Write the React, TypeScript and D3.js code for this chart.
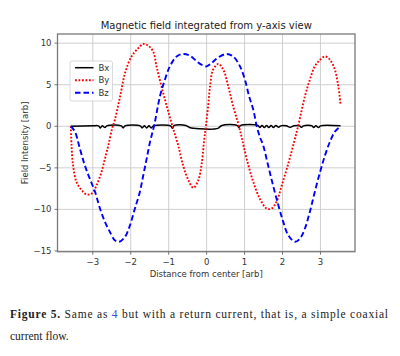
import React from "react";
import * as d3 from "d3";

const title = "Magnetic field integrated from y-axis view";
const xLabel = "Distance from center [arb]";
const yLabel = "Field Intensity [arb]";
const xTicks = [-3, -2, -1, 0, 1, 2, 3];
const yTicks = [-15, -10, -5, 0, 5, 10];
const seriesNames = ["Bx", "By", "Bz"];

const bxData: [number, number][] = [
  [-3.58, 0], [-3.0, 0.05], [-2.85, 0.05], [-2.8, -0.2], [-2.75, 0.05], [-2.68, -0.15], [-2.63, 0.05],
  [-2.25, 0.05], [-2.2, -0.2], [-2.15, 0.05], [-1.75, 0.05], [-1.7, -0.2], [-1.64, 0.05], [-1.58, -0.2],
  [-1.52, 0.05], [-1.46, -0.2], [-1.4, 0.05], [-0.95, 0.05], [-0.9, -0.25], [-0.85, 0.1], [-0.55, 0.1],
  [-0.45, -0.15], [-0.35, -0.25], [0.3, -0.25], [0.4, 0.1], [0.8, 0.1], [0.85, -0.15], [0.9, 0.1], [1.35, 0.1],
  [1.4, -0.15], [1.46, 0.1], [1.52, -0.15], [1.58, 0.1], [1.64, -0.15], [1.7, 0.1], [1.76, -0.15], [1.82, 0.1],
  [1.9, -0.12], [1.95, 0.05], [2.1, 0.05], [2.2, -0.12], [2.3, 0.05], [2.45, 0.05], [2.5, -0.12], [2.55, 0.05],
  [2.78, 0.05], [2.82, -0.15], [2.88, 0.05], [2.95, -0.15], [3.0, 0.05], [3.53, 0.05],
];

const byData: [number, number][] = [
  [-3.58, 0], [-3.56, -2.3], [-3.52, -4.7], [-3.43, -6.7], [-3.29, -7.7], [-3.16, -8.2], [-3.03, -8.1],
  [-2.9, -7.1], [-2.77, -5.5], [-2.68, -3.9], [-2.59, -2.3], [-2.49, -0.25], [-2.42, 0.76], [-2.28, 3.6],
  [-2.15, 6.4], [-1.98, 8.4], [-1.8, 9.4], [-1.67, 9.9], [-1.54, 9.7], [-1.41, 9.0], [-1.32, 7.2],
  [-1.19, 4.8], [-1.05, 2.4], [-0.9, 0], [-0.75, -2.3], [-0.62, -4.7], [-0.48, -6.5], [-0.35, -7.4],
  [-0.22, -6.5], [-0.13, -4.5], [-0.07, -1.85], [-0.02, 0], [0.04, 2.4], [0.09, 4.8], [0.17, 6.8],
  [0.31, 7.5], [0.44, 6.8], [0.57, 4.8], [0.7, 2.4], [0.83, 0.36], [0.92, -1.25], [0.98, -2.5],
  [1.1, -4.7], [1.23, -6.7], [1.4, -8.7], [1.58, -9.9], [1.71, -9.9], [1.84, -9.1], [1.98, -7.1],
  [2.12, -5.0], [2.27, -2.5], [2.41, 0], [2.59, 3.6], [2.72, 5.6], [2.85, 7.2], [2.99, 8.0],
  [3.12, 8.4], [3.25, 8.0], [3.38, 6.8], [3.47, 4.8], [3.53, 2.6],
];

const bzData: [number, number][] = [
  [-3.58, 0], [-3.47, -0.65], [-3.34, -2.7], [-3.21, -4.7], [-3.08, -6.3], [-2.94, -7.9], [-2.81, -9.9],
  [-2.68, -11.5], [-2.55, -12.7], [-2.42, -13.7], [-2.3, -13.9], [-2.15, -13.3], [-2.02, -11.9],
  [-1.89, -9.9], [-1.76, -7.9], [-1.67, -5.9], [-1.58, -3.9], [-1.49, -1.85], [-1.38, 0.15], [-1.23, 3.6],
  [-1.1, 5.6], [-0.97, 7.2], [-0.79, 8.4], [-0.62, 8.7], [-0.44, 8.5], [-0.26, 7.8], [-0.09, 7.3], [0, 7.2],
  [0.13, 7.6], [0.31, 8.3], [0.53, 8.7], [0.7, 8.4], [0.88, 7.2], [1.01, 5.6], [1.12, 3.6], [1.23, 2.0],
  [1.32, 0], [1.4, -1.25], [1.49, -2.3], [1.62, -4.7], [1.75, -7.1], [1.89, -9.5], [2.02, -11.5],
  [2.15, -13.1], [2.33, -13.9], [2.46, -13.5], [2.59, -12.3], [2.72, -10.3], [2.85, -7.9], [2.99, -5.5],
  [3.12, -3.5], [3.25, -1.85], [3.38, -0.65], [3.53, 0],
];

const W = 400;
const H = 356;
const left = 57.5, right = 355, top = 34, bottom = 251.7;

const fmt = (v: number) => (v < 0 ? "\u2212" + Math.abs(v) : String(v));

export default function App() {
  const x = d3.scaleLinear().domain([-3.93, 3.91]).range([left, right]);
  const y = d3.scaleLinear().domain([-15.09, 11.1]).range([bottom, top]);
  const line = d3
    .line<[number, number]>()
    .x((d) => x(d[0]))
    .y((d) => y(d[1]))
    .curve(d3.curveCatmullRom.alpha(0.5));

  const styles = [
    { color: "#000000", dash: "none", width: 1.5 },
    { color: "#ff0000", dash: "1.8,1.7", width: 1.9 },
    { color: "#0000ff", dash: "5.5,3", width: 1.9 },
  ];
  const datas = [bxData, byData, bzData];
  const font = "DejaVu Sans, sans-serif";
  const serif = "Liberation Serif, Times New Roman, serif";
  const tc = "#333";

  return (
    <svg
      width={W}
      height={H}
      style={{ position: "absolute", left: 0, top: 0, background: "#fff" }}
    >
      <rect x={0} y={0} width={W} height={H} fill="#fff" />
      {xTicks.map((t) => (
        <line key={"gx" + t} x1={x(t)} x2={x(t)} y1={top} y2={bottom} stroke="#c9c9c9" strokeWidth={0.9} />
      ))}
      {yTicks.map((t) => (
        <line key={"gy" + t} x1={left} x2={right} y1={y(t)} y2={y(t)} stroke="#c9c9c9" strokeWidth={0.9} />
      ))}
      <defs>
        <clipPath id="plotclip">
          <rect x={left} y={top} width={right - left} height={bottom - top} />
        </clipPath>
      </defs>
      <g clipPath="url(#plotclip)">
        {datas.map((d, i) => (
          <path
            key={i}
            d={line(d) || ""}
            fill="none"
            stroke={styles[i].color}
            strokeWidth={styles[i].width}
            strokeDasharray={styles[i].dash}
          />
        ))}
      </g>
      <rect x={left} y={top} width={right - left} height={bottom - top} fill="none" stroke="#7a7a7a" strokeWidth={1.3} />
      {xTicks.map((t) => (
        <g key={"tx" + t}>
          <line x1={x(t)} x2={x(t)} y1={bottom} y2={bottom + 3} stroke="#555" strokeWidth={0.8} />
          <text x={x(t)} y={bottom + 13} fontSize={8.5} fontFamily={font} fill={tc} textAnchor="middle">
            {fmt(t)}
          </text>
        </g>
      ))}
      {yTicks.map((t) => (
        <g key={"ty" + t}>
          <line x1={left - 3} x2={left} y1={y(t)} y2={y(t)} stroke="#555" strokeWidth={0.8} />
          <text x={left - 6} y={y(t) + 3} fontSize={8.5} fontFamily={font} fill={tc} textAnchor="end">
            {fmt(t)}
          </text>
        </g>
      ))}
      <text x={(left + right) / 2} y={28.8} fontSize={10} fontFamily={font} fill="#222" textAnchor="middle">
        {title}
      </text>
      <text x={(left + right) / 2} y={277} fontSize={8.5} fontFamily={font} fill={tc} textAnchor="middle">
        {xLabel}
      </text>
      <text
        x={0}
        y={0}
        transform={`translate(28,${(top + bottom) / 2}) rotate(-90)`}
        fontSize={8.5}
        fontFamily={font}
        fill={tc}
        textAnchor="middle"
      >
        {yLabel}
      </text>
      <rect x={70} y={61} width={42.5} height={40} rx={2} fill="#fff" stroke="#cccccc" strokeWidth={0.8} opacity={0.9} />
      {seriesNames.map((n, i) => {
        const ly = 67.7 + i * 12.5;
        return (
          <g key={n}>
            <line
              x1={75}
              x2={93.5}
              y1={ly}
              y2={ly}
              stroke={styles[i].color}
              strokeWidth={styles[i].width}
              strokeDasharray={styles[i].dash}
            />
            <text x={98.5} y={ly + 3} fontSize={8.5} fontFamily={font} fill={tc}>
              {n}
            </text>
          </g>
        );
      })}
      <text
        x={10}
        y={317.5}
        fontSize={11.5}
        fontFamily={serif}
        fill="#222"
        textLength={378}
        lengthAdjust="spacing"
      >
        <tspan fontWeight="bold">Figure 5.</tspan> Same as <tspan fill="#3a4fd0">4</tspan> but with a return
        current, that is, a simple coaxial
      </text>
      <text x={10} y={340} fontSize={11.5} fontFamily={serif} fill="#222">
        current flow.
      </text>
    </svg>
  );
}
